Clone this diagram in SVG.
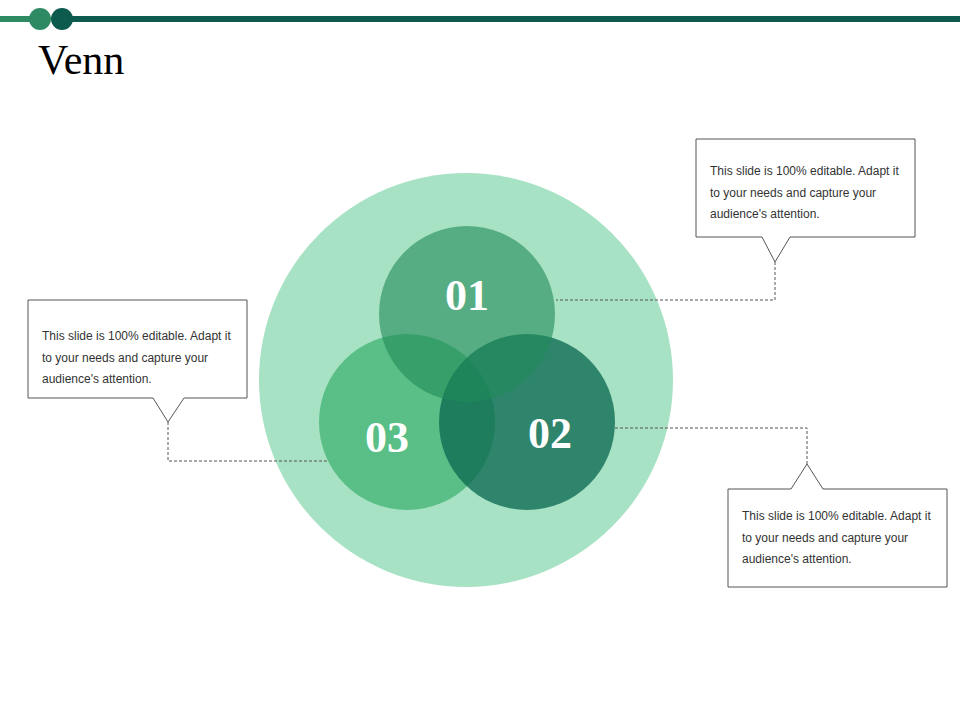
<svg xmlns="http://www.w3.org/2000/svg" width="960" height="720" viewBox="0 0 960 720">
<style>
.t{font-family:"Liberation Sans",Arial,sans-serif;font-size:12px;fill:#333}
.n{font-family:"Liberation Serif","Times New Roman",serif;font-size:44px;font-weight:bold;fill:#fff;text-anchor:middle}
.box{fill:#fff;stroke:#555;stroke-width:1}
.d{fill:none;stroke:#555;stroke-width:1;stroke-dasharray:3,2}
</style>
<rect width="960" height="720" fill="#fff"/>
<rect x="0" y="16" width="40" height="6" fill="#2e8a62"/>
<rect x="60" y="16" width="900" height="6" fill="#0d5a4e"/>
<circle cx="40" cy="19" r="11" fill="#2e8a62"/>
<circle cx="62" cy="19" r="11" fill="#0d5a4e"/>
<text x="38" y="74" style="font-family:'Liberation Serif',serif;font-size:42px;fill:#000">Venn</text>
<g id="outer"><circle cx="466" cy="380" r="207" fill="#a8e2c4"/></g>
<g id="c3"><circle cx="407" cy="422" r="88" fill="#3fb372" opacity="0.75"/></g>
<g id="c2"><circle cx="527" cy="422" r="88" fill="#0d6a52" opacity="0.78"/></g>
<g id="c1"><circle cx="467" cy="314" r="88" fill="#1f8a58" opacity="0.6"/></g>
<text class="n" x="467" y="310">01</text>
<text class="n" x="550" y="448">02</text>
<text class="n" x="387" y="452">03</text>
<g id="connectors">
<path class="d" d="M775 262V300H556"/>
<path class="d" d="M168 422V461H328"/>
<path class="d" d="M807 464V428H614"/>
</g>
<g id="callout1">
<path class="box" d="M696 139H915V237H790L775 262L762 237H696Z"/>
<text class="t" x="710" y="175">This slide is 100% editable. Adapt it</text>
<text class="t" x="710" y="197">to your needs and capture your</text>
<text class="t" x="710" y="218">audience's attention.</text>
</g>
<g id="callout2">
<path class="box" d="M28 300H247V398H184L168 422L153 398H28Z"/>
<text class="t" x="42" y="340">This slide is 100% editable. Adapt it</text>
<text class="t" x="42" y="362">to your needs and capture your</text>
<text class="t" x="42" y="383">audience's attention.</text>
</g>
<g id="callout3">
<path class="box" d="M728 489H791L807 464L823 489H947V587H728Z"/>
<text class="t" x="742" y="520">This slide is 100% editable. Adapt it</text>
<text class="t" x="742" y="542">to your needs and capture your</text>
<text class="t" x="742" y="563">audience's attention.</text>
</g>
</svg>
